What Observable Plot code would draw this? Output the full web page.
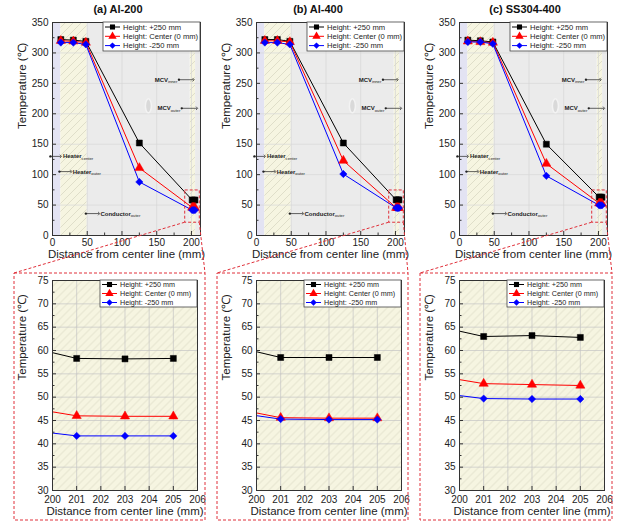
<!DOCTYPE html>
<html><head><meta charset="utf-8">
<script src="https://cdn.jsdelivr.net/npm/d3@7"></script>
<script src="https://cdn.jsdelivr.net/npm/@observablehq/plot@0.6"></script>
<style>
body{margin:0;background:#fff;}
#root{position:relative;width:617px;height:524px;overflow:hidden;font-family:'Liberation Sans',Arial,sans-serif;}
.panel{position:absolute;}
.ptitle{position:absolute;top:3px;font-weight:bold;font-size:11px;transform:translateX(-50%);white-space:nowrap;color:#111;}
</style></head><body>
<svg width="0" height="0" style="position:absolute"><defs>
<pattern id="hatchY" patternUnits="userSpaceOnUse" width="8" height="8">
<rect width="8" height="8" fill="#f6f5e1"/>
<path d="M-2,2 L2,-2 M0,8 L8,0 M6,10 L10,6" stroke="#d6d4bf" stroke-width="0.7"/>
</pattern></defs></svg>
<div id="root"></div>
<script>
// ---------- data ----------
const positions = [12, 30, 48, 125, 201, 203, 205];
const seriesNames = ["Height: +250 mm", "Height: Center (0 mm)", "Height: -250 mm"];
const seriesColors = ["#000000", "#ff0000", "#0000ff"];
const seriesSymbols = ["square", "triangle", "diamond2"];
const panelTitles = ["(a) Al-200", "(b) Al-400", "(c) SS304-400"];

const al200_plus250 = [322, 321, 319, 152, 58.3, 58.2, 58.3];
const al200_center  = [320, 319, 317, 111, 46.0, 45.9, 45.9];
const al200_minus250= [317, 317, 314, 88, 41.7, 41.7, 41.7];

const al400_plus250 = [322, 322, 319, 152, 58.5, 58.5, 58.5];
const al400_center  = [320, 320, 318, 123, 45.6, 45.5, 45.5];
const al400_minus250= [317, 317, 314, 101, 45.3, 45.2, 45.2];

const ss304_plus250 = [321, 320, 318, 150, 63.0, 63.2, 62.8];
const ss304_center  = [319, 318, 317, 118, 52.9, 52.7, 52.5];
const ss304_minus250= [318, 318, 315, 98, 49.7, 49.6, 49.6];

const topXTicks = [0, 50, 100, 150, 200];
const topXMinor = [25, 75, 125, 175];
const topYTicks = [0, 50, 100, 150, 200, 250, 300, 350];
const topYMinor = [25, 75, 125, 175, 225, 275, 325];
const zoomXTicks = [200, 201, 202, 203, 204, 205, 206];
const zoomYTicks = [30, 35, 40, 45, 50, 55, 60, 65, 70, 75];
const zoomYMinor = [32.5, 37.5, 42.5, 47.5, 52.5, 57.5, 62.5, 67.5, 72.5];

// zones (mm)
const zoneHeaterCenter = [0, 12];
const zoneHeaterOuter = [12, 50];
const zoneMiddle = [50, 198];
const zoneMCV = [198, 206];
const zoneEdge = [206, 213];
const zoomBox = {x1: 191, x2: 212, y1: 21, y2: 74};
const mcvImage = {x: 138, y: 213};

const annotArrows = [
  {x1: -3, x2: 12, y: 130}, {x1: 10, x2: 27, y: 105}, {x1: 48, x2: 67, y: 36},
  {x1: 182, x2: 203, y: 256}, {x1: 186, x2: 208, y: 209}
];
const annotLabels = [
  {x: 15, y: 130, t: "Heater_center"}, {x: 29, y: 105, t: "Heater_outer"},
  {x: 69, y: 36, t: "Conductor_outer"}, {x: 147, y: 256, t: "MCV_inner"}, {x: 151, y: 209, t: "MCV_outer"}
];

const xLabel = "Distance from center line (mm)";
const yLabel = "Temperature (\u2103)";

const panels = [
  {title: panelTitles[0], series: [al200_plus250, al200_center, al200_minus250]},
  {title: panelTitles[1], series: [al400_plus250, al400_center, al400_minus250]},
  {title: panelTitles[2], series: [ss304_plus250, ss304_center, ss304_minus250]}
];

// ---------- layout ----------
const FONT = "'Liberation Sans',Arial,sans-serif";
const panelLeft = [0, 204, 407];
const titleCenter = [118, 318, 525];
const bigBoxL = [14, 217, 420], bigBoxR = [205, 408, 612], bigBoxT = 273, bigBoxB = 520;
const TOP = {W: 210, H: 265, ml: 52, mr: 10, mt: 22, mb: 30, top: 0};
const BOT = {W: 210, H: 266, ml: 52, mr: 13, mt: 22, mb: 34, top: 258};

const ellipseSymbol = {
  draw(ctx) {
    const rx = 3, ry = 7, k = 0.5523;
    ctx.moveTo(rx, 0);
    ctx.bezierCurveTo(rx, ry * k, rx * k, ry, 0, ry);
    ctx.bezierCurveTo(-rx * k, ry, -rx, ry * k, -rx, 0);
    ctx.bezierCurveTo(-rx, -ry * k, -rx * k, -ry, 0, -ry);
    ctx.bezierCurveTo(rx * k, -ry, rx, -ry * k, rx, 0);
    ctx.closePath();
  }
};

function rowsFor(vals) { return vals.map((v, j) => ({x: positions[j], y: v})); }

function subscriptify(svg) {
  d3.select(svg).selectAll("text").each(function () {
    const t = this.textContent;
    if (t.includes("_")) {
      const [a, b] = t.split("_");
      const s = d3.select(this); s.text(null);
      s.append("tspan").text(a);
      s.append("tspan").attr("font-size", 4.2).attr("font-weight", "normal").attr("dy", 1.5).text(b);
    }
  });
}

function seriesMarks(series, clip) {
  const m = [];
  series.forEach((vals, i) => {
    m.push(Plot.line(rowsFor(vals), {x: "x", y: "y", stroke: seriesColors[i], strokeWidth: 1, clip}));
  });
  series.forEach((vals, i) => {
    m.push(Plot.dot(rowsFor(vals), {x: "x", y: "y", symbol: seriesSymbols[i], fill: seriesColors[i],
      stroke: seriesColors[i], strokeWidth: 0.5, r: i === 2 ? 3.3 : 3.4, clip}));
  });
  return m;
}

function topPlot(series) {
  const L = TOP, fw = L.W - L.ml - L.mr, fh = L.H - L.mt - L.mb;
  return Plot.plot({
    width: L.W, height: L.H, marginLeft: L.ml, marginRight: L.mr, marginTop: L.mt, marginBottom: L.mb,
    style: {fontFamily: FONT, fontSize: "10px", background: "transparent", overflow: "visible", color: "#222"},
    x: {domain: [0, 213]}, y: {domain: [0, 350]},
    marks: [
      Plot.rect([zoneHeaterCenter], {x1: d => d[0], x2: d => d[1], fill: "#e3e3f3"}),
      Plot.rect([zoneHeaterOuter, zoneMCV], {x1: d => d[0], x2: d => d[1], fill: "url(#hatchY)"}),
      Plot.rect([zoneMiddle, zoneEdge], {x1: d => d[0], x2: d => d[1], fill: "#ebebeb"}),
      Plot.gridX(topXTicks, {stroke: "#d6d6d6", strokeOpacity: 1, strokeWidth: 0.7}),
      Plot.gridY(topYTicks, {stroke: "#d6d6d6", strokeOpacity: 1, strokeWidth: 0.7}),
      Plot.dot([mcvImage], {x: "x", y: "y", symbol: ellipseSymbol, fill: "#d9d9d9", stroke: "#f3f3f3", strokeWidth: 1.5}),
      Plot.link(annotArrows, {x1: "x1", x2: "x2", y1: "y", y2: "y", stroke: "#222", strokeWidth: 0.7,
        markerStart: "dot", markerEnd: "arrow"}),
      Plot.text(annotLabels, {x: "x", y: "y", text: "t", textAnchor: "start", fontSize: 6, fontWeight: "bold", fill: "#222"}),
      ...seriesMarks(series, false),
      Plot.rect([zoomBox], {x1: "x1", x2: "x2", y1: "y1", y2: "y2", fill: "none", stroke: "#e0303a",
        strokeWidth: 1, strokeDasharray: "3,2"}),
      Plot.tickY(topYTicks, {y: d => d, insetRight: fw - 4, stroke: "#333"}),
      Plot.tickY(topYMinor, {y: d => d, insetRight: fw - 2.5, stroke: "#333"}),
      Plot.tickX(topXTicks, {x: d => d, insetTop: fh - 4, stroke: "#333"}),
      Plot.tickX(topXMinor, {x: d => d, insetTop: fh - 2.5, stroke: "#333"}),
      Plot.frame({stroke: "#333", strokeWidth: 1}),
      Plot.axisX(topXTicks, {tickSize: 0, tickPadding: 3, fontSize: 10, label: null}),
      Plot.axisY(topYTicks, {tickSize: 0, tickPadding: 4, fontSize: 10, label: null}),
      Plot.text([xLabel], {text: d => d, frameAnchor: "bottom", dy: 22, fontSize: 11.5, fill: "#222"}),
      Plot.text([yLabel], {text: d => d, frameAnchor: "left", rotate: -90, dx: -30, fontSize: 11.5, fill: "#222"})
    ]
  });
}

function zoomPlot(series) {
  const L = BOT, fw = L.W - L.ml - L.mr, fh = L.H - L.mt - L.mb;
  return Plot.plot({
    width: L.W, height: L.H, marginLeft: L.ml, marginRight: L.mr, marginTop: L.mt, marginBottom: L.mb,
    style: {fontFamily: FONT, fontSize: "10px", background: "transparent", overflow: "visible", color: "#222"},
    x: {domain: [200, 206]}, y: {domain: [30, 75]},
    marks: [
      Plot.frame({fill: "url(#hatchY)"}),
      Plot.gridX(zoomXTicks, {stroke: "#c4c4c4", strokeOpacity: 1, strokeWidth: 0.7}),
      Plot.gridY(zoomYTicks, {stroke: "#c4c4c4", strokeOpacity: 1, strokeWidth: 0.7}),
      ...seriesMarks(series, true),
      Plot.tickY(zoomYTicks, {y: d => d, insetRight: fw - 4, stroke: "#333"}),
      Plot.tickY(zoomYMinor, {y: d => d, insetRight: fw - 2.5, stroke: "#333"}),
      Plot.tickX(zoomXTicks, {x: d => d, insetTop: fh - 4, stroke: "#333"}),
      Plot.frame({stroke: "#333", strokeWidth: 1}),
      Plot.axisX(zoomXTicks, {tickSize: 0, tickPadding: 5, fontSize: 10, label: null}),
      Plot.axisY(zoomYTicks, {tickSize: 0, tickPadding: 4, fontSize: 10, label: null}),
      Plot.text([xLabel], {text: d => d, frameAnchor: "bottom", dy: 24, fontSize: 11.5, fill: "#222"}),
      Plot.text([yLabel], {text: d => d, frameAnchor: "left", rotate: -90, dx: -30, dy: -5, fontSize: 11.5, fill: "#222"})
    ]
  });
}

const root = document.getElementById("root");
const overlay = d3.create("svg").attr("width", 617).attr("height", 524)
  .style("position", "absolute").style("left", 0).style("top", 0).style("pointer-events", "none")
  .style("font-family", FONT);

function drawLegend(x0, y0, w, h, fs, rowH, first) {
  const g = overlay.append("g");
  g.append("rect").attr("x", x0).attr("y", y0).attr("width", w).attr("height", h)
    .attr("fill", "#fff").attr("stroke", "#444").attr("stroke-width", 0.8);
  seriesNames.forEach((name, i) => {
    const yy = y0 + first + i * rowH;
    g.append("line").attr("x1", x0 + 2).attr("x2", x0 + 17).attr("y1", yy).attr("y2", yy)
      .attr("stroke", seriesColors[i]).attr("stroke-width", 1);
    const sym = [d3.symbolSquare, d3.symbolTriangle, d3.symbolDiamond2][i];
    g.append("path").attr("d", d3.symbol(sym, i === 1 ? 30 : 26)())
      .attr("transform", `translate(${x0 + 9.5},${yy})`).attr("fill", seriesColors[i]);
    g.append("text").attr("x", x0 + 20).attr("y", yy).attr("dy", "0.35em")
      .attr("font-size", fs).attr("fill", "#222").text(name);
  });
}

panels.forEach((p, i) => {
  const left = panelLeft[i];
  const t = document.createElement("div");
  t.className = "ptitle"; t.style.left = titleCenter[i] + "px"; t.textContent = p.title;
  root.appendChild(t);

  const top = topPlot(p.series);
  subscriptify(top);
  top.classList.add("panel"); top.style.left = left + "px"; top.style.top = TOP.top + "px";
  root.appendChild(top);

  const bot = zoomPlot(p.series);
  bot.classList.add("panel"); bot.style.left = left + "px"; bot.style.top = BOT.top + "px";
  root.appendChild(bot);

  // zoom box connectors
  const sx = top.scale("x"), sy = top.scale("y");
  const bx1 = left + sx.apply(zoomBox.x1), bx2 = left + sx.apply(zoomBox.x2), by = TOP.top + sy.apply(zoomBox.y1);
  overlay.append("rect").attr("x", bigBoxL[i]).attr("y", bigBoxT).attr("width", bigBoxR[i] - bigBoxL[i])
    .attr("height", bigBoxB - bigBoxT).attr("fill", "none").attr("stroke", "#e0303a").attr("stroke-width", 1)
    .attr("stroke-dasharray", "3,2");
  overlay.append("line").attr("x1", bx1).attr("y1", by).attr("x2", bigBoxL[i]).attr("y2", bigBoxT)
    .attr("stroke", "#e0303a").attr("stroke-width", 1).attr("stroke-dasharray", "3,2");
  overlay.append("line").attr("x1", bx2).attr("y1", by).attr("x2", bigBoxR[i]).attr("y2", bigBoxT)
    .attr("stroke", "#e0303a").attr("stroke-width", 1).attr("stroke-dasharray", "3,2");

  // legends
  const topFrameR = left + TOP.W - TOP.mr, topFrameT = TOP.top + TOP.mt;
  drawLegend(topFrameR - 97, topFrameT, 97, 29, 7.6, 9.3, 5);
  const botFrameR = left + BOT.W - BOT.mr, botFrameT = BOT.top + BOT.mt;
  drawLegend(botFrameR - 97, botFrameT, 97, 27, 7.2, 9, 4.5);
});
root.appendChild(overlay.node());
</script>
</body></html>
